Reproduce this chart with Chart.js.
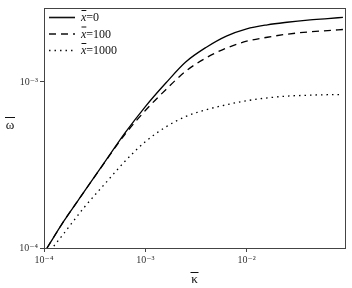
<!DOCTYPE html>
<html>
<head>
<meta charset="utf-8">
<script src="https://cdn.jsdelivr.net/npm/chart.js@4.4.1/dist/chart.umd.min.js"></script>
<style>
  html, body { margin: 0; padding: 0; background: #fff; }
  #wrap { width: 352px; height: 288px; }
</style>
</head>
<body>
<div id="wrap"><canvas id="chart"></canvas></div>
<script>
// kappa bar values (x axis)
const kappa = [1.07e-4, 1.58e-4, 2.5e-4, 4.0e-4, 6.3e-4, 1.0e-3, 1.6e-3, 2.5e-3,
  4.0e-3, 6.3e-3, 1.0e-2, 1.6e-2, 2.5e-2, 4.0e-2, 6.3e-2, 8.9e-2];

// omega bar for each x bar
const omegaX0 = [1.0e-4, 1.46e-4, 2.19e-4, 3.31e-4, 4.93e-4, 7.11e-4, 9.89e-4, 1.32e-3,
  1.62e-3, 1.89e-3, 2.09e-3, 2.21e-3, 2.29e-3, 2.36e-3, 2.41e-3, 2.45e-3];
const omegaX100 = [1.0e-4, 1.46e-4, 2.19e-4, 3.30e-4, 4.84e-4, 6.73e-4, 9.02e-4, 1.16e-3,
  1.40e-3, 1.60e-3, 1.76e-3, 1.86e-3, 1.94e-3, 2.0e-3, 2.04e-3, 2.07e-3];
const omegaX1000 = [9.1e-5, 1.23e-4, 1.76e-4, 2.44e-4, 3.33e-4, 4.37e-4, 5.37e-4, 6.19e-4,
  6.81e-4, 7.29e-4, 7.71e-4, 8.02e-4, 8.22e-4, 8.32e-4, 8.38e-4, 8.39e-4];

const legendLabels = ['0', '100', '1000'];
const xTicks = [1e-4, 1e-3, 1e-2];
const yTicks = [1e-4, 1e-3];

const serif = '"Liberation Serif", "DejaVu Serif", serif';
const sup = { '-': '⁻', '0': '⁰', '1': '¹', '2': '²', '3': '³', '4': '⁴' };
const powLabel = (v) => '10' + String(Math.round(Math.log10(v))).split('').map(c => sup[c]).join('');

const toPoints = (ys) => kappa.map((k, i) => ({ x: k, y: ys[i] }));

const dashes = [[], [7, 5], [1.5, 4]];

const decorations = {
  id: 'decorations',
  afterDraw(c) {
    const { ctx, chartArea: a } = c;
    ctx.save();
    // frame
    ctx.strokeStyle = '#444';
    ctx.lineWidth = 1;
    ctx.strokeRect(a.left + 0.5, a.top + 0.5, a.right - a.left, a.bottom - a.top);

    ctx.fillStyle = '#111';
    ctx.strokeStyle = '#111';
    // x axis title: kappa with overbar
    const cx = (a.left + a.right) / 2;
    ctx.font = '13px ' + serif;
    ctx.textAlign = 'center';
    ctx.textBaseline = 'middle';
    ctx.fillText('κ', cx, 280);
    ctx.beginPath();
    ctx.moveTo(cx - 4, 272.5);
    ctx.lineTo(cx + 4, 272.5);
    ctx.stroke();
    // y axis title: omega with overbar
    ctx.fillText('ω', 10, 126);
    ctx.beginPath();
    ctx.moveTo(5, 117.5);
    ctx.lineTo(15, 117.5);
    ctx.stroke();

    // legend
    const rows = [17, 33.5, 50];
    ctx.textAlign = 'left';
    c.data.datasets.forEach((ds, i) => {
      const y = rows[i];
      ctx.lineWidth = 1.6;
      ctx.setLineDash(ds.borderDash);
      ctx.beginPath();
      ctx.moveTo(49, y + 0.5);
      ctx.lineTo(75, y + 0.5);
      ctx.stroke();
      ctx.setLineDash([]);
      ctx.font = 'italic 12px ' + serif;
      ctx.fillText('x', 81, y + 1);
      const w = ctx.measureText('x').width;
      ctx.lineWidth = 1;
      ctx.beginPath();
      ctx.moveTo(81.5, y - 6.5);
      ctx.lineTo(81 + w, y - 6.5);
      ctx.stroke();
      ctx.font = '12px ' + serif;
      ctx.fillText('=' + legendLabels[i], 81 + w, y + 1);
    });
    ctx.restore();
  },
};

new Chart(document.getElementById('chart'), {
  type: 'line',
  data: {
    datasets: [omegaX0, omegaX100, omegaX1000].map((ys, i) => ({
      label: 'x=' + legendLabels[i],
      data: toPoints(ys),
      borderColor: '#000',
      borderWidth: 1.3,
      borderDash: dashes[i],
      pointRadius: 0,
      fill: false,
      cubicInterpolationMode: 'monotone',
    })),
  },
  options: {
    responsive: true,
    maintainAspectRatio: false,
    animation: false,
    layout: { padding: { top: 5, right: 7, left: 0, bottom: 0 } },
    plugins: {
      legend: { display: false },
      tooltip: { enabled: false },
    },
    scales: {
      x: {
        type: 'logarithmic',
        min: 1e-4,
        max: 0.0933,
        afterBuildTicks: (s) => { s.ticks = xTicks.map(v => ({ value: v })); },
        afterFit: (s) => { s.height = 40; },
        ticks: {
          callback: (v) => powLabel(v),
          font: { family: serif, size: 10 },
          color: '#333',
          maxRotation: 0,
          autoSkip: false,
          padding: 2,
        },
        grid: { drawOnChartArea: false, drawTicks: true, tickLength: 4, color: '#444' },
        border: { color: '#444' },
      },
      y: {
        type: 'logarithmic',
        min: 1e-4,
        max: 2.79e-3,
        afterBuildTicks: (s) => { s.ticks = yTicks.map(v => ({ value: v })); },
        afterFit: (s) => { s.width = 44; },
        ticks: {
          callback: (v) => powLabel(v),
          font: { family: serif, size: 10 },
          color: '#333',
          autoSkip: false,
          padding: 2,
        },
        grid: { drawOnChartArea: false, drawTicks: true, tickLength: 4, color: '#444' },
        border: { color: '#444' },
      },
    },
  },
  plugins: [decorations],
});
</script>
</body>
</html>
